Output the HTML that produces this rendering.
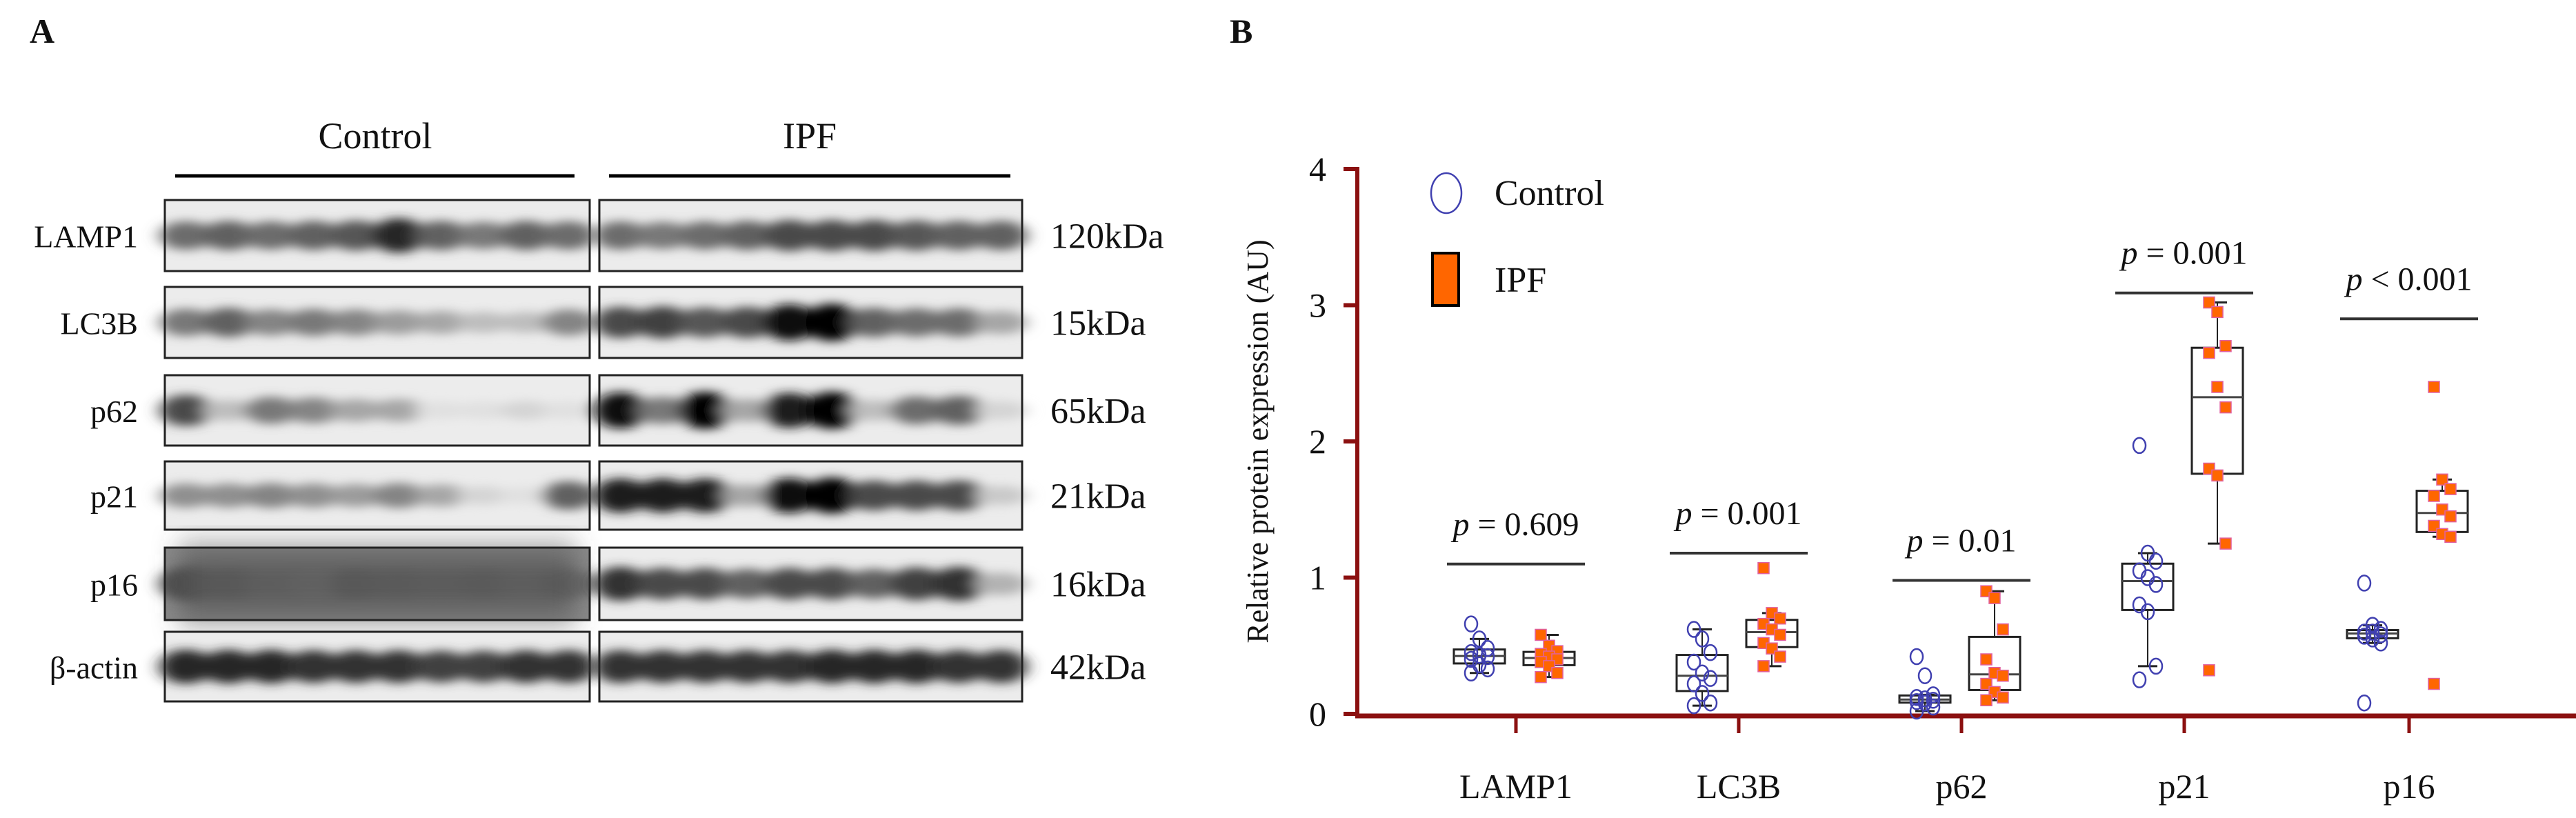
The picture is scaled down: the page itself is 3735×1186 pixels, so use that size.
<!DOCTYPE html>
<html><head><meta charset="utf-8"><style>
html,body{margin:0;padding:0;background:#fff;}
body{width:3735px;height:1186px;overflow:hidden;position:relative;font-family:"Liberation Serif",serif;}
svg text{font-family:"Liberation Serif",serif;}
</style></head><body>
<svg id="fig" width="3735" height="1186" viewBox="0 0 3735 1186" xmlns="http://www.w3.org/2000/svg" style="position:absolute;left:0;top:0">
<defs>
<filter id="blur" x="-50%" y="-50%" width="200%" height="200%"><feGaussianBlur stdDeviation="12 7"/></filter>
<filter id="blur2" x="-50%" y="-50%" width="200%" height="200%"><feGaussianBlur stdDeviation="18 30"/></filter>
</defs>
<g id="panelA"></g>
<g id="panelB"></g>
</svg>
<script>
// ---------- Panel B data ----------
const categories = ["LAMP1","LC3B","p62","p21","p16"];
const controlValues = [
 [0.66,0.55,0.48,0.45,0.43,0.42,0.40,0.36,0.33,0.30],
 [0.62,0.55,0.45,0.38,0.30,0.26,0.22,0.15,0.08,0.06],
 [0.42,0.28,0.14,0.12,0.11,0.10,0.09,0.08,0.05,0.02],
 [1.97,1.18,1.12,1.05,1.00,0.95,0.80,0.75,0.35,0.25],
 [0.96,0.65,0.62,0.60,0.60,0.58,0.57,0.55,0.52,0.08]
];
const ipfValues = [
 [0.58,0.50,0.46,0.44,0.42,0.40,0.38,0.35,0.30,0.27],
 [1.07,0.74,0.70,0.66,0.62,0.58,0.52,0.48,0.42,0.35],
 [0.90,0.85,0.62,0.40,0.30,0.28,0.22,0.16,0.12,0.10],
 [3.02,2.95,2.70,2.65,2.40,2.25,1.80,1.75,1.25,0.32],
 [2.40,1.72,1.65,1.60,1.50,1.45,1.38,1.32,1.30,0.22]
];
const pLabels = ["= 0.609","= 0.001","= 0.01","= 0.001","< 0.001"];
const pLineValues = [1.10,1.18,0.98,3.09,2.90];
const yTicks = [0,1,2,3,4];

// ---------- Panel A data ----------
const blotRows = ["LAMP1","LC3B","p62","p21","p16","β-actin"];
const blotKDa = ["120kDa","15kDa","65kDa","21kDa","16kDa","42kDa"];
const ctrlIntensity = [
 [0.55,0.6,0.55,0.6,0.65,0.85,0.6,0.5,0.6,0.55],
 [0.5,0.6,0.45,0.5,0.45,0.35,0.3,0.2,0.2,0.45],
 [0.7,0.2,0.5,0.45,0.3,0.3,0.05,0.05,0.1,0.05],
 [0.4,0.4,0.45,0.4,0.35,0.45,0.3,0.1,0.05,0.6],
 [0.7,0.55,0.4,0.3,0.55,0.5,0.45,0.5,0.4,0.55],
 [0.85,0.85,0.85,0.8,0.8,0.8,0.75,0.75,0.8,0.8]
];
const ipfIntensity = [
 [0.55,0.5,0.55,0.6,0.7,0.7,0.7,0.65,0.6,0.6],
 [0.7,0.75,0.65,0.7,0.95,1.0,0.6,0.55,0.55,0.3],
 [0.95,0.5,1.0,0.3,0.9,1.0,0.2,0.55,0.6,0.1],
 [0.9,0.9,0.9,0.3,0.95,1.0,0.7,0.7,0.7,0.15],
 [0.8,0.7,0.7,0.6,0.7,0.7,0.6,0.75,0.8,0.25],
 [0.8,0.8,0.8,0.8,0.8,0.85,0.85,0.85,0.8,0.8]
];

const NS="http://www.w3.org/2000/svg";
function mk(tag,attrs,parent){const e=document.createElementNS(NS,tag);for(const k in attrs)e.setAttribute(k,attrs[k]);parent.appendChild(e);return e;}
function txt(x,y,s,size,parent,anchor,italic){const e=mk("text",{x:x,y:y,"font-size":size,"text-anchor":anchor||"start",fill:"#111"},parent);if(italic)e.setAttribute("font-style","italic");e.textContent=s;return e;}

// ---------- Panel A ----------
const A=document.getElementById("panelA");
let e=txt(43,62,"A",50,A);e.setAttribute("font-weight","bold");


e=txt(544,215,"Control",54,A,"middle");


e=txt(1174,215,"IPF",54,A,"middle");


e=mk("line",{x1:254,x2:833,y1:255,y2:255,stroke:"#000","stroke-width":5},A);


e=mk("line",{x1:883,x2:1465,y1:255,y2:255,stroke:"#000","stroke-width":5},A);


const rowTop=[290,416,544,669,794,916];
const rowH=[103,103,102,99,105,101];
const panels=[[239,855,ctrlIntensity],[869,1482,ipfIntensity]];
blotRows.forEach((name,r)=>{
  const y0=rowTop[r],h=rowH[r];
  panels.forEach((p,pi)=>{
    const g=mk("g",{},A);
    
    
    const x0=p[0],w=p[1]-p[0];
    mk("rect",{x:x0,y:y0,width:w,height:h,fill:(r===4&&pi===0)?"#8a8a8a":"#ececec"},g);
    const cg=mk("g",{filter:"url(#blur)"},g);
    if(r===4&&pi===0){mk("rect",{x:x0+20,y:y0+10,width:w-40,height:h-20,fill:"#555",filter:"url(#blur2)"},g);}
    const vals=p[2][r];const lw=w/vals.length;
    vals.forEach((v,i)=>{
      const c=Math.round(235-v*230);
      mk("ellipse",{cx:x0+lw*(i+0.5),cy:y0+h*0.5,rx:lw*0.62,ry:h*(0.12+0.15*v),fill:`rgb(${c},${c},${c})`},cg);
    });
    mk("rect",{x:x0,y:y0,width:w,height:h,fill:"none",stroke:"#222","stroke-width":3},g);
  });
  e=txt(200,y0+h*0.5+17,name,46,A,"end");
  
  
  e=txt(1523,y0+h*0.5+18,blotKDa[r],52,A);
  
  
});

// ---------- Panel B ----------
const B=document.getElementById("panelB");
const axX=1968, y0px=1035, unit=197.5;
const catX=[2198,2521,2844,3167,3493];
function yS(v){return y0px-v*unit;}
e=txt(1783,62,"B",50,B);e.setAttribute("font-weight","bold");


const axisCol="#8b1010";
e=mk("line",{x1:axX,x2:axX,y1:yS(4)-3,y2:y0px+5,stroke:axisCol,"stroke-width":6},B);


e=mk("line",{x1:axX-3,x2:3735,y1:y0px+3,y2:y0px+3,stroke:axisCol,"stroke-width":7},B);


yTicks.forEach(t=>{
  const l=mk("line",{x1:axX-20,x2:axX,y1:yS(t),y2:yS(t),stroke:axisCol,"stroke-width":6},B);
  
  
  const tt=txt(axX-45,yS(t)+17,String(t),50,B,"end");
  
  
});
e=txt(0,0,"Relative protein expression (AU)",44,B,"middle");
e.setAttribute("transform","translate(1838,640) rotate(-90)");


// legend
e=mk("ellipse",{cx:2097,cy:280,rx:22,ry:29,fill:"none",stroke:"#4040b0","stroke-width":2.5},B);


e=txt(2167,297,"Control",52,B);


e=mk("rect",{x:2077,y:367,width:38,height:76,fill:"#ff6600",stroke:"#000","stroke-width":4},B);


e=txt(2167,423,"IPF",52,B);



function quant(a,q){const s=[...a].sort((x,y)=>x-y);const pos=(s.length-1)*q;const lo=Math.floor(pos),hi=Math.ceil(pos);return s[lo]+(s[hi]-s[lo])*(pos-lo);}
function drawBox(vals,cx,isCtrl,cat){
  const g=mk("g",{},B);
  
  
  const q1=quant(vals,0.25),q3=quant(vals,0.75),md=quant(vals,0.5),iqr=q3-q1;
  const inl=vals.filter(v=>v>=q1-1.5*iqr&&v<=q3+1.5*iqr);
  const wlo=Math.min(...inl),whi=Math.max(...inl);
  const bw=74;
  mk("line",{x1:cx,x2:cx,y1:yS(whi),y2:yS(q3),stroke:"#222","stroke-width":2},g);
  mk("line",{x1:cx,x2:cx,y1:yS(q1),y2:yS(wlo),stroke:"#222","stroke-width":2},g);
  mk("line",{x1:cx-14,x2:cx+14,y1:yS(whi),y2:yS(whi),stroke:"#222","stroke-width":3},g);
  mk("line",{x1:cx-14,x2:cx+14,y1:yS(wlo),y2:yS(wlo),stroke:"#222","stroke-width":3},g);
  mk("rect",{x:cx-bw/2,y:yS(q3),width:bw,height:yS(q1)-yS(q3),fill:"none",stroke:"#222","stroke-width":3},g);
  mk("line",{x1:cx-bw/2,x2:cx+bw/2,y1:yS(md),y2:yS(md),stroke:"#444","stroke-width":3},g);
  vals.forEach((v,i)=>{
    const jx=cx+((i%3)-1)*12;
    let m;
    if(isCtrl) m=mk("ellipse",{cx:jx,cy:yS(v),rx:9,ry:11,fill:"none",stroke:"#4040b0","stroke-width":2.5},g);
    else m=mk("rect",{x:jx-8,y:yS(v)-8,width:16,height:16,fill:"#ff6600",stroke:"#e060a0","stroke-width":1.5},g);
    
    
  });
}
categories.forEach((c,i)=>{
  const cx=catX[i];
  drawBox(controlValues[i],cx-53,true,c);
  drawBox(ipfValues[i],cx+48,false,c);
  const tk=mk("line",{x1:cx,x2:cx,y1:y0px+5,y2:y0px+28,stroke:axisCol,"stroke-width":5},B);
  
  
  const lb=txt(cx,1157,c,50,B,"middle");
  
  
  const ly=yS(pLineValues[i]);
  const pl=mk("line",{x1:cx-100,x2:cx+100,y1:ly,y2:ly,stroke:"#333","stroke-width":4},B);
  
  
  const pt=mk("text",{x:cx,y:ly-42,"font-size":48,"text-anchor":"middle",fill:"#111"},B);
  const ip=mk("tspan",{"font-style":"italic"},pt);ip.textContent="p";
  const rest=mk("tspan",{},pt);rest.textContent=" "+pLabels[i];
  
  
});
</script>
</body></html>
